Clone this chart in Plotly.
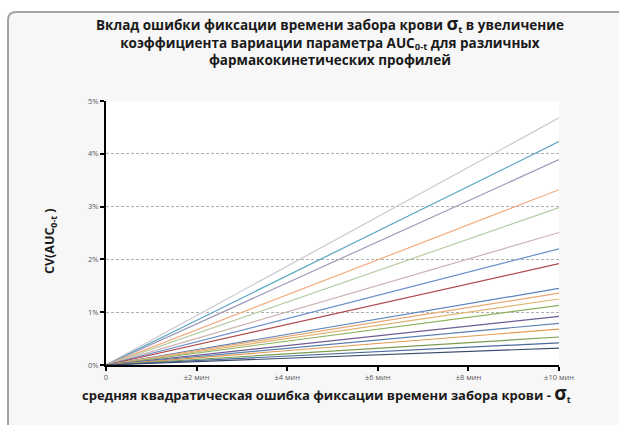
import plotly.graph_objects as go

# Blood-sampling time error (minutes, ±) at the two ends of each profile line
sigma_t = [0, 10]

# CV(AUC0-t) reached at sigma_t = ±10 min, one value per pharmacokinetic profile (%)
cv_at_10 = [4.68, 4.23, 3.89, 3.32, 2.98, 2.51, 2.20, 1.92, 1.45, 1.36,
            1.25, 1.13, 0.92, 0.79, 0.68, 0.53, 0.42, 0.32]

profile_colors = ["#c9c9cf", "#5aa6c2", "#9c9cba", "#f2aa7c", "#b6cca2", "#ccb4b0",
                  "#6a8ecb", "#b04a4a", "#5b82ba", "#eaa872", "#e2b474", "#8cb05c",
                  "#6c5c92", "#5a80b2", "#e29a52", "#7c9c52", "#4a6a9c", "#3c4c6c"]

x_tickvals = [0, 2, 4, 6, 8, 10]
x_ticktext = ["0", "±2 мин", "±4 мин", "±6 мин", "±8 мин", "±10 мин"]
y_tickvals = [0, 1, 2, 3, 4, 5]
y_ticktext = ["0%", "1%", "2%", "3%", "4%", "5%"]

W, H = 619, 425
L, R, T, B = 106, 60, 101, 60
PW, PH = W - L - R, H - T - B


def px_x(p):
    return (p - L) / PW


def px_y(p):
    return (H - B - p) / PH


fig = go.Figure()
for v, c in zip(cv_at_10, profile_colors):
    fig.add_trace(go.Scatter(
        x=sigma_t, y=[0, v], mode="lines",
        line=dict(color=c, width=1.2), hoverinfo="skip", showlegend=False))

# rounded outer frame (runs off the right and bottom edges)
x0, y0, x1, y1, r = px_x(8), px_y(12), px_x(640), px_y(445), 8
rx, ry = r / PW, r / PH
frame_path = (f"M {x0},{y1} L {x0},{y0 - ry} Q {x0},{y0} {x0 + rx},{y0} "
              f"L {x1},{y0} L {x1},{y1} Z")

fonts = "Open Sans, Liberation Sans, sans-serif"
fig.update_layout(
    width=W, height=H,
    margin=dict(l=L, r=R, t=T, b=B),
    paper_bgcolor="white",
    plot_bgcolor="white",
    showlegend=False,
    font=dict(family=fonts),
    shapes=[
        dict(type="path", path=frame_path, xref="paper", yref="paper",
             line=dict(color="#a3a3a3", width=2), fillcolor="#f7f7f7", layer="below"),
        dict(type="rect", xref="paper", yref="paper", x0=0, x1=1, y0=0, y1=1,
             line=dict(width=0), fillcolor="white", layer="below"),
    ],
    xaxis=dict(
        range=[0, 10], tickvals=x_tickvals, ticktext=x_ticktext,
        showgrid=False, zeroline=False,
        showline=True, linecolor="black", linewidth=2,
        ticks="outside", ticklen=4, tickcolor="black", tickwidth=1.5,
        tickfont=dict(size=7.5, color="#595959", family=fonts),
    ),
    yaxis=dict(
        range=[0, 5], tickvals=y_tickvals, ticktext=y_ticktext,
        showgrid=True, gridcolor="#b0b0b0", griddash="3px,2px", gridwidth=1,
        zeroline=False,
        showline=True, linecolor="black", linewidth=2,
        ticks="outside", ticklen=4, tickcolor="black", tickwidth=1.5,
        tickfont=dict(size=7.5, color="#595959", family=fonts),
    ),
    annotations=[
        dict(text="Вклад ошибки фиксации времени забора крови "
                  "<span style='font-size:18px'>σ</span><sub>t</sub> в увеличение<br>"
                  "коэффициента вариации параметра AUC<sub>0-t</sub> для различных<br>"
                  "фармакокинетических профилей",
             xref="paper", yref="paper", x=px_x(330), y=px_y(40),
             xanchor="center", yanchor="middle", showarrow=False,
             font=dict(size=13.5, color="#1a1a1a", family=fonts, weight="bold"),
             align="center"),
        dict(text="CV(AUC<sub>0-t</sub> )", textangle=-90,
             xref="paper", yref="paper", x=px_x(50), y=px_y(242),
             xanchor="center", yanchor="middle", showarrow=False,
             font=dict(size=12.5, color="#1a1a1a", family=fonts, weight="bold")),
        dict(text="средняя квадратическая ошибка фиксации времени забора крови - "
                  "<span style='font-size:19px'>σ</span><sub>t</sub>",
             xref="paper", yref="paper", x=px_x(326), y=px_y(393),
             xanchor="center", yanchor="middle", showarrow=False,
             font=dict(size=13, color="#1a1a1a", family=fonts, weight="bold")),
    ],
)

fig.write_html("out.html")
